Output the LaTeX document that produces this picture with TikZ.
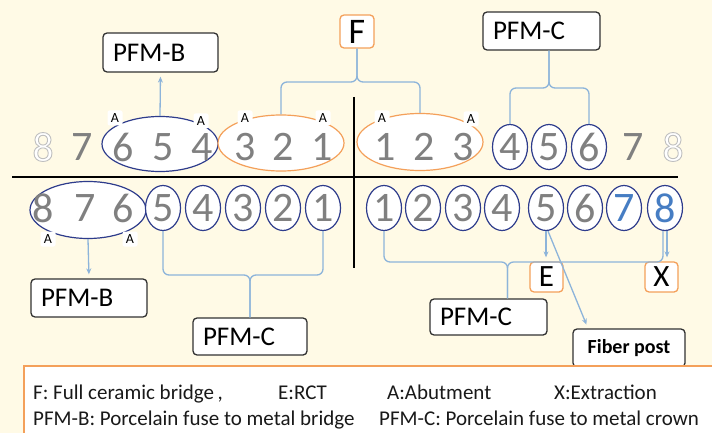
\documentclass[tikz,border=0pt]{standalone}
\usepackage{fontspec}
\setmainfont{Carlito}
\usetikzlibrary{shapes.geometric,arrows.meta,calc}
\definecolor{bgcream}{RGB}{255,250,230}
\definecolor{navy}{RGB}{46,60,140}
\definecolor{peach}{RGB}{244,160,90}
\definecolor{linkblue}{RGB}{141,180,218}
\definecolor{toothgray}{RGB}{128,128,128}
\definecolor{brightblue}{RGB}{70,125,195}
\definecolor{boxedge}{RGB}{50,50,50}
% white glyph with a light grey outline (PDF text render mode 2)
\newcommand\hollowdigit[1]{%
  \special{pdf:literal direct 2 Tr 0.9 w 0.75 0.75 0.75 RG 1 1 1 rg}#1%
  \special{pdf:literal direct 0 Tr}}
\begin{document}
\begin{tikzpicture}[x=1pt,y=-1pt,
  toothfont/.style={font=\fontsize{42}{42}\selectfont},
  tooth/.style={toothfont, text=toothgray, inner sep=0pt},
  crown/.style={ellipse, draw=navy, line width=1.2pt, fill=white,
    minimum width=35pt, minimum height=45pt, inner sep=0pt,
    toothfont, text=toothgray},
  span/.style={ellipse, line width=1.2pt, fill=white, inner sep=0pt},
  abut/.style={fill=white, rounded corners=2pt, inner sep=1pt,
    minimum width=15pt, minimum height=15pt,
    font=\fontsize{14}{14}\selectfont, text=black},
  tagbox/.style={draw=boxedge, line width=1.3pt, rounded corners=4pt,
    fill=white, inner xsep=10pt, inner ysep=0pt, align=left,
    font=\fontsize{27}{27}\selectfont, text=black},
  codebox/.style={draw=peach, line width=1.3pt, rounded corners=4pt,
    fill=white, inner sep=0pt, text=black},
  link/.style={draw=linkblue, line width=1.3pt},
  linkarrow/.style={link, -{Stealth[length=6pt,width=5pt]}, shorten >=4pt},
  brace/.style={link, rounded corners=6pt},
  legendtext/.style={anchor=base west, inner sep=0pt,
    font=\fontsize{21}{21}\selectfont, text=black!90},
]
\useasboundingbox (0,0) rectangle (712,433);
\clip (0,0) rectangle (712,433);
\fill[bgcream] (0,0) rectangle (712,433);

% quadrant axes
\draw[line width=1.5pt] (12,177) -- (678,177);
\draw[line width=1.5pt] (354,97) -- (354,268);

% bridge outlines
\node[span, draw=navy, minimum width=116pt, minimum height=55pt] (spanB654) at (160,144) {};
\node[span, draw=peach, minimum width=126pt, minimum height=56pt] (spanF321) at (281,143) {};
\node[span, draw=peach, minimum width=126pt, minimum height=57pt] (spanF123) at (420,142) {};
\node[span, draw=navy, minimum width=116pt, minimum height=57pt] (spanB876) at (88,210) {};

% upper jaw, patient's right
\node[tooth, text=white] (u8L) at (43,147) {\hollowdigit{8}};
\node[tooth] (u7L) at (82,147) {7};
\node[tooth] (u6L) at (123,147) {6};
\node[tooth] (u5L) at (163,147) {5};
\node[tooth] (u4L) at (202,147) {4};
\node[tooth] (u3L) at (245,147) {3};
\node[tooth] (u2L) at (283,147) {2};
\node[tooth] (u1L) at (322,147) {1};
% upper jaw, patient's left
\node[tooth] (u1R) at (385,147) {1};
\node[tooth] (u2R) at (424,147) {2};
\node[tooth] (u3R) at (463,147) {3};
\node[crown] (u4R) at (510,147) {4};
\node[crown] (u5R) at (549,147) {5};
\node[crown] (u6R) at (589,147) {6};
\node[tooth] (u7R) at (633,147) {7};
\node[tooth, text=white] (u8R) at (673,147) {\hollowdigit{8}};

% lower jaw, patient's right
\node[tooth] (l8L) at (43,208) {8};
\node[tooth] (l7L) at (85,208) {7};
\node[tooth] (l6L) at (123,208) {6};
\node[crown] (l5L) at (163,208) {5};
\node[crown] (l4L) at (203,208) {4};
\node[crown] (l3L) at (243,208) {3};
\node[crown] (l2L) at (283,208) {2};
\node[crown] (l1L) at (323,208) {1};
% lower jaw, patient's left
\node[crown] (l1R) at (384,208) {1};
\node[crown] (l2R) at (423,208) {2};
\node[crown] (l3R) at (463,208) {3};
\node[crown] (l4R) at (502,208) {4};
\node[crown] (l5R) at (546,208) {5};
\node[crown] (l6R) at (585,208) {6};
\node[crown, text=brightblue] (l7R) at (624,208) {7};
\node[crown, text=brightblue] (l8R) at (665,208) {8};

% abutment marks
\node[abut] (a1) at (115,118) {A};
\node[abut] (a2) at (201,121) {A};
\node[abut] (a3) at (245,118) {A};
\node[abut] (a4) at (323,118) {A};
\node[abut] (a5) at (382,118) {A};
\node[abut] (a6) at (471,119) {A};
\node[abut] (a7) at (48,239) {A};
\node[abut] (a8) at (130,239) {A};

% treatment boxes
\node[tagbox, minimum width=115pt, minimum height=39pt, text width=95pt] (pfmbTop) at (160.5,52.5) {PFM-B};
\node[codebox, minimum width=34pt, minimum height=33pt, font=\fontsize{36}{36}\selectfont] (F) at (357,31.5) {F};
\node[tagbox, minimum width=117pt, minimum height=38pt, text width=97pt] (pfmcTop) at (541.5,31) {PFM-C};
\node[tagbox, minimum width=116pt, minimum height=38pt, text width=96pt] (pfmbLow) at (89,298) {PFM-B};
\node[tagbox, minimum width=114pt, minimum height=37pt, text width=94pt] (pfmcLowL) at (250,336.5) {PFM-C};
\node[tagbox, minimum width=117pt, minimum height=36pt, text width=97pt] (pfmcLowR) at (488.5,317) {PFM-C};
\node[codebox, minimum width=33pt, minimum height=30pt, font=\fontsize{31}{31}\selectfont] (E) at (546.5,277) {E};
\node[codebox, minimum width=33pt, minimum height=30pt, font=\fontsize{31}{31}\selectfont] (X) at (661.5,277) {X};
\node[tagbox, inner xsep=0pt, minimum width=112pt, minimum height=38pt, align=center, font=\fontsize{20}{20}\selectfont\bfseries] (fiber) at (629,348) {Fiber post};

% brace levels
\coordinate (fbar) at (0,82);
\coordinate (cbar) at (0,88);
\coordinate (lbar) at (0,275);
\coordinate (rbar) at (0,262);

% upper connectors
\draw[linkarrow] (spanB654.north) -- (pfmbTop.south);
\draw[brace] (spanF321.north) |- (F.south |- fbar) -- (F.south);
\draw[brace] (spanF123.north) |- (F.south |- fbar) -- (F.south);
\draw[brace] (u4R.north) |- (u5R.north |- cbar) -- (u5R.north |- pfmcTop.south);
\draw[brace] (u6R.north) |- (u5R.north |- cbar) -- (u5R.north |- pfmcTop.south);

% lower connectors
\draw[linkarrow] (spanB876.south) -- (pfmbLow.north);
\draw[brace] (l5L.south) |- (pfmcLowL.north |- lbar) -- (pfmcLowL.north);
\draw[brace] (l1L.south) |- (pfmcLowL.north |- lbar) -- (pfmcLowL.north);
\coordinate (rstem) at ([xshift=19pt]pfmcLowR.north);
\draw[brace] (l1R.south) |- (rstem |- rbar) -- (rstem);
\draw[brace] ([xshift=-2pt]l8R.south) |- (rstem |- rbar) -- (rstem);
\draw[linkarrow] (l5R.south) -- (l5R.south |- E.north);
\draw[linkarrow] ([xshift=2pt]l5R.south) -- ([xshift=-41pt]fiber.north);
\draw[linkarrow] ([xshift=2pt]l8R.south) -- ([xshift=2pt]l8R.south |- X.north);

% legend
\node[draw=peach, line width=1.5pt, fill=white, anchor=north west,
  minimum width=720pt, minimum height=90pt, inner sep=0pt] (legend) at (23,365) {};
\node[legendtext] (lgF) at (33,399) {F: Full ceramic bridge\,,};
\node[legendtext] (lgE) at (278,399) {E:RCT};
\node[legendtext] (lgA) at (387,399) {A:Abutment};
\node[legendtext] (lgX) at (554,399) {X:Extraction};
\node[legendtext] (lgB) at (33,425) {PFM-B: Porcelain fuse to metal bridge};
\node[legendtext] (lgC) at (379,425) {PFM-C: Porcelain fuse to metal crown};
\end{tikzpicture}
\end{document}
